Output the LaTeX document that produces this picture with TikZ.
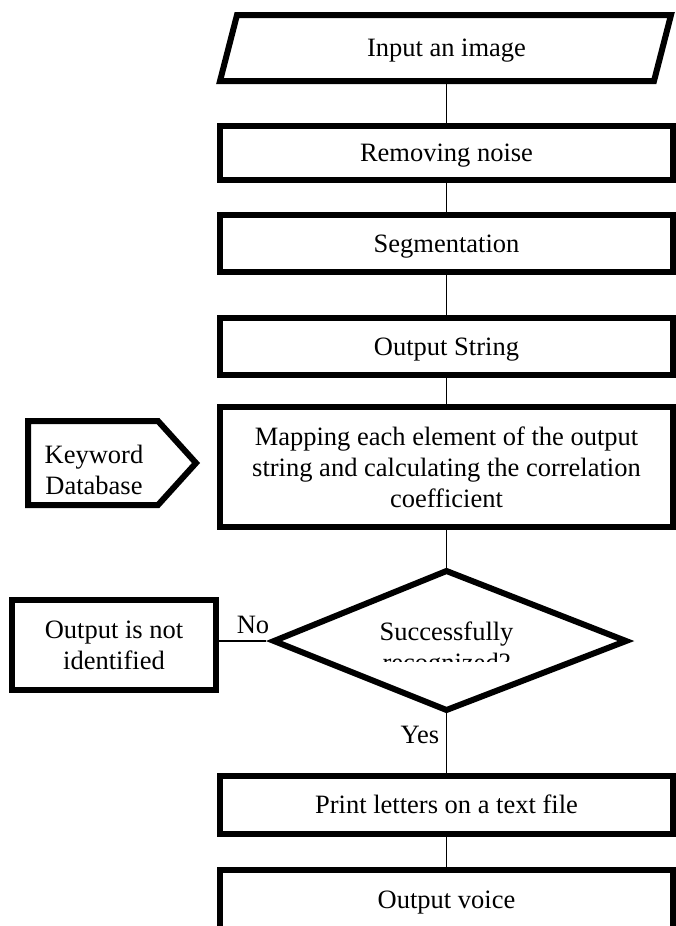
\documentclass[tikz,border=0pt]{standalone}
\usepackage{fontspec}
\setmainfont{Liberation Serif}
\usetikzlibrary{shapes.geometric}
\tikzset{
  fnt/.style={font=\fontsize{26.5}{31}\selectfont},
  procbox/.style={fnt, draw, line width=6pt, fill=white, rectangle, inner sep=0pt, align=center},
  oneline/.style={text height=17.5pt, text depth=0pt},
  conn/.style={line width=1.5pt},
  lbl/.style={fnt, inner sep=0pt, anchor=base},
  thickline/.style={line width=6pt, fill=white, line join=miter},
}
\begin{document}
\begin{tikzpicture}[x=1pt,y=-1pt]
\useasboundingbox (0,0) rectangle (675,926);
% input parallelogram
\draw[thickline] (220,81) -- (237,15) -- (671,15) -- (654,81) -- cycle;
\node[fnt, oneline, inner sep=0pt, outer sep=3pt, minimum width=434pt, minimum height=66pt] (inp) at (446.5,48) {Input an image};
% process boxes
\node[procbox, oneline, minimum width=453pt, minimum height=54pt] (rn) at (446.5,153) {Removing noise};
\node[procbox, oneline, minimum width=453pt, minimum height=57pt] (seg) at (446.5,243.5) {Segmentation};
\node[procbox, oneline, minimum width=453pt, minimum height=57pt] (os) at (446.5,346.5) {Output String};
\node[procbox, minimum width=453pt, minimum height=120pt] (map) at (446.5,467) {Mapping each element of the output\\string and calculating the correlation\\coefficient};
% keyword database
\draw[thickline] (28,421) -- (158,421) -- (196,463) -- (158,505) -- (28,505) -- cycle;
\node[fnt, align=center, inner sep=0pt] (kw) at (94,470) {Keyword\\Database};
% decision
\draw[thickline] (446.5,571) -- (626,641) -- (446.5,710) -- (274,641) -- cycle;
\coordinate (dtop) at (446.5,568);
\coordinate (dbot) at (446.5,713);
\coordinate (dleft) at (266,641);
\node[lbl] (dt1) at (446.5,640) {Successfully};
\begin{scope}
\clip (0,0) rectangle (675,661.5);
\node[lbl] (dt2) at (446.5,671) {recognized?};
\end{scope}
\node[procbox, minimum width=204pt, minimum height=90pt] (nid) at (114,645) {Output is not\\identified};
\node[procbox, oneline, minimum width=453pt, minimum height=58pt] (pr) at (446.5,805) {Print letters on a text file};
\node[procbox, text height=17.5pt, text depth=5.5pt, minimum width=453pt, minimum height=64pt] (ov) at (446.5,902) {Output voice};
% connectors
\draw[conn] (inp.south) -- (rn.north);
\draw[conn] (rn.south) -- (seg.north);
\draw[conn] (seg.south) -- (os.north);
\draw[conn] (os.south) -- (map.north);
\draw[conn] (map.south) -- (dtop);
\draw[conn] (dbot) -- (pr.north);
\draw[conn] (pr.south) -- (ov.north);
\draw[conn] (dleft) -- (nid.east |- dleft);
\node[lbl] (yes) at (420,743) {Yes};
\node[lbl] (no) at (253,633) {No};
\end{tikzpicture}
\end{document}
